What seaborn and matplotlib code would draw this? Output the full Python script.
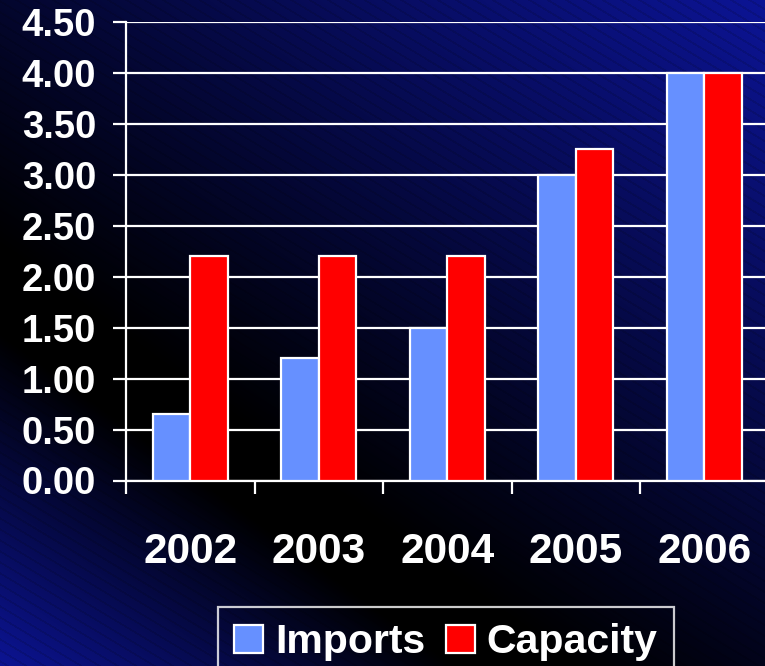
import numpy as np
import pandas as pd
import matplotlib
matplotlib.use("Agg")
import matplotlib.pyplot as plt
import seaborn as sns

years = ["2002", "2003", "2004", "2005", "2006"]
imports = [0.65, 1.20, 1.50, 3.00, 4.00]
capacity = [2.20, 2.20, 2.20, 3.25, 4.00]
series_names = ["Imports", "Capacity"]
y_ticks = [0.0, 0.5, 1.0, 1.5, 2.0, 2.5, 3.0, 3.5, 4.0, 4.5]

df = pd.DataFrame({
    "year": years * 2,
    "value": imports + capacity,
    "series": [series_names[0]] * len(years) + [series_names[1]] * len(years),
})

sns.set_theme(style="white")
plt.rcParams["font.family"] = ["Liberation Sans", "DejaVu Sans"]
plt.rcParams["font.weight"] = "bold"

W, H = 765, 666
fig = plt.figure(figsize=(W / 100, H / 100), dpi=100)

# background gradient (blue -> black -> blue, diagonal) with faint stripes
bg = fig.add_axes([0, 0, 1, 1], zorder=-10)
yy, xx = np.mgrid[0:H, 0:W]
u = xx / W
v = yy / H
d = 0.84 * u - 1.0 * v + 0.45
level = np.where(d > 0, np.clip((d - 0.08) / 1.2, 0, 1), np.clip((-d - 0.05) / 0.5, 0, 1))
s = (yy - 0.6 * xx) / 11.0
stripe = 1 - 0.12 * ((s - np.floor(s)) < 0.2)
blue = np.array([12, 20, 148]) / 255.0
img = level[..., None] * blue[None, None, :] * stripe[..., None]
bg.imshow(np.clip(img, 0, 1), aspect="auto", extent=[0, 1, 0, 1], origin="upper")
bg.set_axis_off()

ax = fig.add_axes([126 / W, (H - 480.5) / H, 642.5 / W, 458.5 / H])
ax.set_facecolor("none")

sns.barplot(data=df, x="year", y="value", hue="series",
            palette=["#6690FF", "#FF0000"], saturation=1, width=0.58,
            edgecolor="white", linewidth=1.6, ax=ax, zorder=3)

ax.set_xlim(-0.5, 4.5)
ax.set_ylim(0, 4.5)
ax.set_yticks(y_ticks)
ax.set_yticklabels([f"{t:.2f}" for t in y_ticks])
ax.yaxis.grid(True, color="white", linewidth=1.6, zorder=1)
ax.set_axisbelow(True)
ax.set_xlabel("")
ax.set_ylabel("")

for side in ["top", "right"]:
    ax.spines[side].set_visible(False)
for side in ["left", "bottom"]:
    ax.spines[side].set_color("white")
    ax.spines[side].set_linewidth(1.6)

ax.tick_params(axis="y", colors="white", labelsize=27.5, length=9.5, width=1.6,
               pad=12, direction="out", left=True)
ax.tick_params(axis="x", which="major", colors="white", labelsize=30.5, length=0, pad=37)
ax.set_xticks(np.arange(-0.5, 5.0, 1.0), minor=True)
ax.tick_params(axis="x", which="minor", colors="white", length=9, width=1.6,
               direction="out", bottom=True)
for lab in ax.get_xticklabels() + ax.get_yticklabels():
    lab.set_fontweight("bold")
    lab.set_color("white")

handles, labels = ax.get_legend_handles_labels()
if ax.get_legend() is not None:
    ax.get_legend().remove()
leg = fig.legend(handles, labels, loc="upper center",
                 bbox_to_anchor=(446 / W, 1 - 607 / H), ncol=2,
                 fontsize=29.5, frameon=True, handlelength=0.7, handleheight=0.7,
                 handletextpad=0.3, columnspacing=0.5, borderpad=0.4,
                 borderaxespad=0, fancybox=False)
leg.get_frame().set_facecolor("none")
leg.get_frame().set_edgecolor("white")
leg.get_frame().set_linewidth(1.6)
for t in leg.get_texts():
    t.set_color("white")
    t.set_fontweight("bold")
for p in leg.get_patches():
    p.set_edgecolor("white")
    p.set_linewidth(1.6)

fig.savefig("out.png", dpi=100)
